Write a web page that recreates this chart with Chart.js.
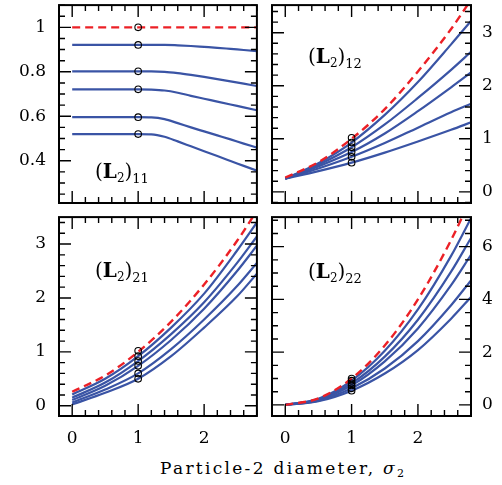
<!DOCTYPE html>
<html><head><meta charset="utf-8">
<script src="https://cdn.jsdelivr.net/npm/chart.js@4.4.0/dist/chart.umd.min.js"></script>
<style>
html,body{margin:0;padding:0;background:#fff;}
#wrap{position:relative;width:502px;height:485px;overflow:hidden;background:#fff;}
canvas{position:absolute;}
.lab{position:absolute;font-family:'DejaVu Serif',serif;font-size:20px;color:#000;white-space:nowrap;line-height:1;}
.lab b{font-weight:bold;}
.lab sub{font-size:13px;vertical-align:-5px;line-height:0;}
.lab sub.s2{font-size:12px;vertical-align:-4px;font-weight:normal;}
#xtitle{position:absolute;font-family:'DejaVu Serif',serif;font-size:17px;letter-spacing:2.3px;color:#000;white-space:nowrap;line-height:1;}
#xtitle i{font-style:italic;}
#xtitle sub{font-size:11px;vertical-align:-3px;line-height:0;}
</style></head><body>
<div id="wrap">
<canvas id="c11" width="262" height="210" style="left:0;top:0;width:262px;height:210px"></canvas>
<canvas id="c12" width="237" height="210" style="left:265px;top:0;width:237px;height:210px"></canvas>
<canvas id="c21" width="262" height="240" style="left:0;top:212px;width:262px;height:240px"></canvas>
<canvas id="c22" width="237" height="240" style="left:265px;top:212px;width:237px;height:240px"></canvas>
<div class="lab" style="left:95px;top:161px">(<b>L<sub class="s2">2</sub></b>)<sub>11</sub></div>
<div class="lab" style="left:308px;top:46px">(<b>L<sub class="s2">2</sub></b>)<sub>12</sub></div>
<div class="lab" style="left:95px;top:260px">(<b>L<sub class="s2">2</sub></b>)<sub>21</sub></div>
<div class="lab" style="left:308px;top:261px">(<b>L<sub class="s2">2</sub></b>)<sub>22</sub></div>
<div id="xtitle" style="left:160px;top:460px">Particle-2 diameter, <i>σ</i><sub>2</sub></div>
</div>
<script>
// ---------- data ----------
const X_TICKS = [0, 1, 2];
const CIRCLE_X = 1;

// (L2)11
const X11 = [0, 0.5, 1, 1.2, 1.4, 1.6, 1.8, 2.0, 2.2, 2.4, 2.6, 2.8];
const L11_RED = [1, 1, 1, 1, 1, 1, 1, 1, 1, 1, 1, 1];
const L11_B1 = [0.921, 0.921, 0.921, 0.921, 0.921, 0.919, 0.916, 0.912, 0.908, 0.903, 0.898, 0.893];
const L11_B2 = [0.802, 0.802, 0.802, 0.802, 0.800, 0.794, 0.786, 0.777, 0.767, 0.757, 0.747, 0.736];
const L11_B3 = [0.721, 0.721, 0.721, 0.720, 0.716, 0.706, 0.692, 0.679, 0.666, 0.653, 0.640, 0.627];
const L11_B4 = [0.596, 0.596, 0.596, 0.595, 0.587, 0.569, 0.550, 0.532, 0.514, 0.496, 0.477, 0.459];
const L11_B5 = [0.520, 0.520, 0.520, 0.519, 0.508, 0.487, 0.465, 0.443, 0.421, 0.399, 0.377, 0.355];
const L11_CIRCLES = [1.0, 0.921, 0.802, 0.721, 0.596, 0.520];
const L11_Y_TICKS = [0.4, 0.6, 0.8, 1];

// (L2)12
const X12 = [0, 0.5, 1, 1.5, 2, 2.5, 2.8];
const L12_RED = [0.27, 0.56, 1.0, 1.56, 2.27, 3.07, 3.62];
const L12_B1 = [0.25, 0.54, 0.93, 1.45, 2.07, 2.78, 3.22];
const L12_B2 = [0.25, 0.51, 0.84, 1.27, 1.77, 2.30, 2.64];
const L12_B3 = [0.25, 0.48, 0.75, 1.10, 1.52, 1.97, 2.25];
const L12_B4 = [0.25, 0.44, 0.66, 0.92, 1.21, 1.50, 1.66];
const L12_B5 = [0.25, 0.39, 0.55, 0.74, 0.95, 1.17, 1.31];
const L12_CIRCLES = [1.02, 0.93, 0.84, 0.75, 0.66, 0.55];
const L12_Y_TICKS = [0, 1, 2, 3];

// (L2)21
const X21 = [0, 0.5, 1, 1.5, 2, 2.5, 2.8];
const L21_RED = [0.26, 0.56, 1.0, 1.56, 2.25, 3.06, 3.62];
const L21_B1 = [0.21, 0.50, 0.92, 1.45, 2.08, 2.88, 3.40];
const L21_B2 = [0.15, 0.43, 0.83, 1.33, 1.92, 2.65, 3.14];
const L21_B3 = [0.105, 0.37, 0.74, 1.22, 1.80, 2.50, 2.97];
const L21_B4 = [0.06, 0.30, 0.60, 1.05, 1.60, 2.22, 2.65];
const L21_B5 = [0.025, 0.24, 0.50, 0.92, 1.45, 2.03, 2.45];
const L21_CIRCLES = [1.02, 0.92, 0.83, 0.74, 0.60, 0.50];
const L21_Y_TICKS = [0, 1, 2, 3];

// (L2)22
const X22 = [0, 0.5, 1, 1.5, 2, 2.5, 2.8];
const L22_RED = [0, 0.25, 1.0, 2.25, 4.0, 6.25, 7.84];
const L22_B1 = [0, 0.23, 0.92, 2.05, 3.62, 5.65, 7.08];
const L22_B2 = [0, 0.21, 0.82, 1.83, 3.23, 5.05, 6.33];
const L22_B3 = [0, 0.19, 0.74, 1.65, 2.90, 4.54, 5.69];
const L22_B4 = [0, 0.16, 0.63, 1.38, 2.42, 3.78, 4.72];
const L22_B5 = [0, 0.14, 0.54, 1.19, 2.08, 3.27, 4.09];
const L22_CIRCLES = [1.0, 0.92, 0.82, 0.74, 0.63, 0.54];
const L22_Y_TICKS = [0, 2, 4, 6];

// ---------- styling ----------
const BLUE = 'rgb(58,84,165)';
const RED = 'rgb(236,32,38)';
const FONT = {family: "'DejaVu Serif', serif", size: 17};

const framePlugin = {
  id: 'frame',
  afterDatasetsDraw(chart, args, o) {
    const {ctx, chartArea: a} = chart;
    const xs = chart.scales.x, ys = chart.scales.y;
    const marks = (min, max, minor, major) => {
      const out = [];
      const i0 = Math.ceil(min / minor - 1e-9), i1 = Math.floor(max / minor + 1e-9);
      for (let i = i0; i <= i1; i++) {
        const v = i * minor;
        out.push({v, maj: Math.abs(v / major - Math.round(v / major)) < 1e-6});
      }
      return out;
    };
    ctx.save();
    ctx.strokeStyle = '#000';
    ctx.lineWidth = 1.4;
    ctx.beginPath();
    for (const m of marks(xs.min, xs.max, o.xMinor, o.xMajor)) {
      const p = xs.getPixelForValue(m.v), L = m.maj ? 12 : 6;
      ctx.moveTo(p, a.bottom); ctx.lineTo(p, a.bottom - L);
      ctx.moveTo(p, a.top); ctx.lineTo(p, a.top + L);
    }
    for (const m of marks(ys.min, ys.max, o.yMinor, o.yMajor)) {
      const p = ys.getPixelForValue(m.v), L = m.maj ? 12 : 6;
      ctx.moveTo(a.left, p); ctx.lineTo(a.left + L, p);
      ctx.moveTo(a.right, p); ctx.lineTo(a.right - L, p);
    }
    ctx.stroke();
    ctx.lineWidth = 2;
    ctx.strokeRect(a.left, a.top, a.right - a.left, a.bottom - a.top);
    ctx.restore();
  }
};

function pts(xs, ys) { return xs.map((x, i) => ({x, y: ys[i]})); }

function makePanel(id, p) {
  const datasets = [];
  datasets.push({
    data: p.circles.map(v => ({x: CIRCLE_X, y: v})),
    showLine: false, pointRadius: 3.3, pointBorderWidth: 1.1,
    pointBorderColor: '#000', pointBackgroundColor: 'rgba(0,0,0,0)', order: 0
  });
  datasets.push({
    data: pts(p.x, p.red), borderColor: RED, borderWidth: 2.4, borderDash: [8, 5],
    pointRadius: 0, cubicInterpolationMode: 'monotone', clip: 0, order: 1
  });
  p.blues.forEach(b => datasets.push({
    data: pts(p.x, b), borderColor: BLUE, borderWidth: 2.2,
    pointRadius: 0, cubicInterpolationMode: 'monotone', clip: 0, order: 2
  }));
  new Chart(document.getElementById(id), {
    type: 'line',
    data: {datasets},
    plugins: [framePlugin],
    options: {
      responsive: false, animation: false, events: [],
      layout: {padding: p.padding},
      plugins: {legend: {display: false}, tooltip: {enabled: false},
        frame: {xMinor: 0.2, xMajor: 1, yMinor: p.yMinor, yMajor: p.yMajor}},
      scales: {
        x: {
          type: 'linear', min: -0.2, max: 2.8, display: p.showX,
          grid: {display: false, drawTicks: false}, border: {display: false},
          ticks: {font: FONT, color: '#000', padding: 12, maxRotation: 0},
          afterBuildTicks: s => { s.ticks = X_TICKS.map(v => ({value: v})); },
          afterFit: s => { s.height = p.showX ? 30 : 0; s.paddingLeft = 0; s.paddingRight = 0; }
        },
        y: {
          type: 'linear', min: p.yMin, max: p.yMax, position: p.yPos,
          grid: {display: false, drawTicks: false}, border: {display: false},
          ticks: {font: FONT, color: '#000', padding: p.yPos === 'left' ? 13 : 11,
            callback: v => String(v)},
          afterBuildTicks: s => { s.ticks = p.yTicks.map(v => ({value: v})); },
          afterFit: s => { s.width = p.yWidth; s.paddingTop = 0; s.paddingBottom = 0; }
        }
      }
    }
  });
}

makePanel('c11', {x: X11, red: L11_RED, blues: [L11_B1, L11_B2, L11_B3, L11_B4, L11_B5],
  circles: L11_CIRCLES, yMin: 0.21, yMax: 1.1, yTicks: L11_Y_TICKS, yMinor: 0.05, yMajor: 0.2,
  yPos: 'left', yWidth: 59, showX: false, padding: {left: 0, right: 5, top: 4, bottom: 7}});
makePanel('c12', {x: X12, red: L12_RED, blues: [L12_B1, L12_B2, L12_B3, L12_B4, L12_B5],
  circles: L12_CIRCLES, yMin: -0.21, yMax: 3.52, yTicks: L12_Y_TICKS, yMinor: 0.2, yMajor: 1,
  yPos: 'right', yWidth: 31, showX: false, padding: {left: 7, right: 0, top: 4, bottom: 7}});
makePanel('c21', {x: X21, red: L21_RED, blues: [L21_B1, L21_B2, L21_B3, L21_B4, L21_B5],
  circles: L21_CIRCLES, yMin: -0.19, yMax: 3.5, yTicks: L21_Y_TICKS, yMinor: 0.2, yMajor: 1,
  yPos: 'left', yWidth: 59, showX: true, padding: {left: 0, right: 5, top: 5, bottom: 6}});
makePanel('c22', {x: X22, red: L22_RED, blues: [L22_B1, L22_B2, L22_B3, L22_B4, L22_B5],
  circles: L22_CIRCLES, yMin: -0.42, yMax: 7.12, yTicks: L22_Y_TICKS, yMinor: 0.5, yMajor: 2,
  yPos: 'right', yWidth: 31, showX: true, padding: {left: 7, right: 0, top: 5, bottom: 6}});
</script>
</body></html>
